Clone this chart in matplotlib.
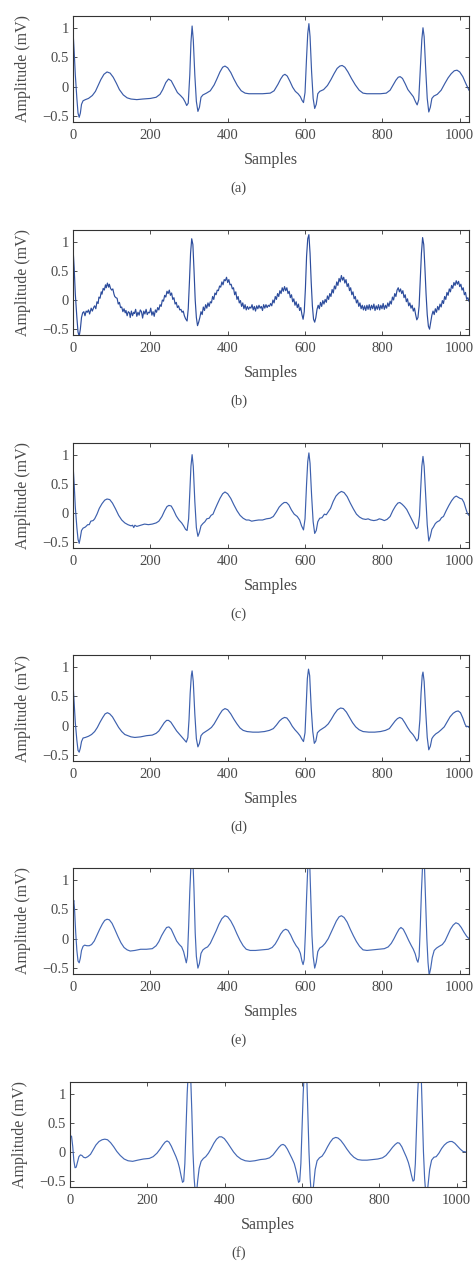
import numpy as np
import matplotlib
matplotlib.use('Agg')
import matplotlib.pyplot as plt

plt.rcParams['font.family'] = ['Liberation Serif', 'DejaVu Serif']
plt.rcParams['axes.unicode_minus'] = True

# ECG traces: [sample, amplitude (mV)]
ecg_a = np.array([
    [0, 0.95], [3, 0.6], [6, 0.2], [10, -0.2], [13, -0.45], [16, -0.52], [19, -0.45], [22, -0.3],
    [26, -0.24], [32, -0.22], [40, -0.2], [50, -0.15], [58, -0.08], [65, 0.02], [72, 0.12], [80, 0.21],
    [88, 0.25], [96, 0.23], [104, 0.16], [112, 0.06], [120, -0.05], [130, -0.14], [140, -0.19], [150, -0.21],
    [165, -0.22], [180, -0.21], [200, -0.2], [215, -0.18], [225, -0.13], [232, -0.05], [240, 0.07], [247, 0.13],
    [254, 0.1], [262, 0.0], [270, -0.1], [278, -0.15], [285, -0.2], [290, -0.26], [294, -0.32], [298, -0.28],
    [302, 0.2], [305, 0.75], [308, 1.03], [311, 0.8], [315, 0.2], [319, -0.25], [323, -0.42], [327, -0.35],
    [331, -0.18], [336, -0.14], [345, -0.11], [355, -0.07], [365, 0.03], [372, 0.13], [380, 0.25], [387, 0.33],
    [393, 0.35], [400, 0.32], [408, 0.24], [416, 0.13], [425, 0.02], [435, -0.07], [445, -0.11], [455, -0.12],
    [470, -0.12], [490, -0.12], [510, -0.11], [520, -0.07], [530, 0.04], [537, 0.13], [543, 0.19], [548, 0.21],
    [554, 0.18], [561, 0.09], [568, -0.01], [575, -0.08], [582, -0.12], [588, -0.17], [592, -0.23], [596, -0.27],
    [600, -0.1], [604, 0.5], [607, 0.9], [610, 1.07], [613, 0.85], [617, 0.25], [621, -0.2], [625, -0.37],
    [629, -0.3], [633, -0.12], [638, -0.08], [648, -0.05], [658, 0.02], [667, 0.12], [675, 0.22], [683, 0.31],
    [690, 0.35], [696, 0.36], [703, 0.33], [711, 0.25], [720, 0.14], [730, 0.03], [740, -0.06], [750, -0.11],
    [760, -0.12], [775, -0.12], [795, -0.12], [810, -0.11], [820, -0.06], [828, 0.03], [835, 0.11], [841, 0.16],
    [846, 0.17], [852, 0.14], [859, 0.05], [866, -0.05], [873, -0.11], [880, -0.17], [886, -0.26], [890, -0.31],
    [894, -0.22], [898, 0.3], [902, 0.8], [905, 1.0], [908, 0.85], [912, 0.3], [916, -0.2], [920, -0.43],
    [924, -0.35], [928, -0.2], [933, -0.16], [942, -0.13], [952, -0.06], [962, 0.06], [970, 0.15], [978, 0.22],
    [986, 0.27], [993, 0.28], [1000, 0.25], [1008, 0.17], [1016, 0.05], [1024, -0.06]])

ecg_b = np.array([
    [0, 0.9], [3, 0.55], [6, 0.1], [10, -0.3], [13, -0.55], [16, -0.62], [19, -0.5], [22, -0.3], [25, -0.22],
    [28, -0.2], [31, -0.27], [34, -0.19], [37, -0.21], [40, -0.17], [43, -0.24], [47, -0.14], [50, -0.19],
    [54, -0.12], [56, -0.1], [59, -0.15], [62, -0.03], [65, -0.06], [67, 0.05], [70, 0.03], [73, 0.14],
    [75, 0.1], [78, 0.2], [81, 0.17], [84, 0.26], [86, 0.21], [89, 0.29], [92, 0.22], [94, 0.27], [97, 0.2],
    [100, 0.17], [103, 0.19], [106, 0.1], [108, 0.06], [111, 0.04], [114, 0.03], [117, -0.07], [120, -0.04],
    [123, -0.13], [126, -0.12], [129, -0.2], [132, -0.15], [135, -0.22], [137, -0.18], [140, -0.27],
    [143, -0.2], [146, -0.22], [148, -0.3], [151, -0.19], [154, -0.27], [157, -0.21], [159, -0.23],
    [162, -0.16], [165, -0.28], [168, -0.21], [171, -0.26], [174, -0.17], [177, -0.2], [180, -0.31],
    [183, -0.19], [186, -0.24], [189, -0.16], [192, -0.25], [195, -0.21], [198, -0.22], [201, -0.14],
    [204, -0.26], [207, -0.2], [210, -0.28], [213, -0.17], [216, -0.21], [219, -0.13], [222, -0.17],
    [225, -0.08], [228, -0.11], [231, 0.0], [234, -0.02], [237, 0.08], [240, 0.05], [243, 0.15], [246, 0.11],
    [249, 0.17], [252, 0.08], [255, 0.12], [258, 0.01], [261, 0.04], [264, -0.07], [267, -0.04], [270, -0.13],
    [273, -0.1], [276, -0.17], [279, -0.16], [282, -0.21], [285, -0.19], [288, -0.27], [291, -0.32],
    [295, -0.36], [298, -0.15], [301, 0.3], [304, 0.8], [307, 1.05], [310, 0.95], [313, 0.5], [316, 0.0],
    [319, -0.3], [322, -0.44], [325, -0.38], [328, -0.3], [331, -0.2], [334, -0.25], [337, -0.12],
    [340, -0.18], [343, -0.08], [346, -0.14], [349, -0.05], [352, -0.11], [355, -0.03], [358, -0.05],
    [361, 0.06], [364, 0.01], [367, 0.12], [370, 0.09], [373, 0.17], [376, 0.16], [379, 0.24], [382, 0.22],
    [385, 0.31], [388, 0.26], [391, 0.35], [394, 0.33], [397, 0.39], [400, 0.3], [403, 0.35], [406, 0.26],
    [409, 0.27], [412, 0.19], [415, 0.21], [418, 0.09], [421, 0.14], [424, 0.01], [427, 0.06], [430, -0.05],
    [433, -0.01], [436, -0.11], [439, -0.05], [442, -0.15], [445, -0.08], [448, -0.17], [451, -0.11],
    [454, -0.16], [457, -0.12], [460, -0.14], [463, -0.08], [466, -0.17], [469, -0.11], [472, -0.19],
    [475, -0.1], [478, -0.15], [481, -0.09], [484, -0.14], [487, -0.11], [490, -0.18], [493, -0.08],
    [496, -0.14], [499, -0.08], [502, -0.13], [505, -0.09], [508, -0.11], [511, -0.06], [514, -0.1],
    [517, 0.0], [520, -0.05], [523, 0.06], [526, 0.01], [529, 0.11], [532, 0.06], [535, 0.16], [538, 0.11],
    [541, 0.21], [544, 0.15], [547, 0.23], [550, 0.16], [553, 0.21], [556, 0.11], [559, 0.15], [562, 0.04],
    [565, 0.09], [568, -0.03], [571, 0.02], [574, -0.09], [577, -0.03], [580, -0.13], [583, -0.07],
    [586, -0.18], [589, -0.13], [592, -0.25], [595, -0.33], [598, -0.2], [601, 0.2], [604, 0.75], [607, 1.05],
    [610, 1.12], [613, 0.8], [616, 0.3], [619, -0.1], [622, -0.33], [625, -0.38], [628, -0.3], [631, -0.16],
    [634, -0.09], [637, -0.15], [640, -0.04], [643, -0.11], [646, -0.01], [649, -0.07], [652, 0.01],
    [655, -0.04], [658, 0.07], [661, 0.01], [664, 0.11], [667, 0.06], [670, 0.18], [673, 0.12], [676, 0.24],
    [679, 0.19], [682, 0.31], [685, 0.25], [688, 0.37], [691, 0.31], [694, 0.42], [697, 0.34], [700, 0.39],
    [703, 0.29], [706, 0.35], [709, 0.23], [712, 0.28], [715, 0.16], [718, 0.21], [721, 0.09], [724, 0.14],
    [727, 0.02], [730, 0.06], [733, -0.05], [736, 0.0], [739, -0.11], [742, -0.05], [745, -0.15], [748, -0.09],
    [751, -0.17], [754, -0.1], [757, -0.18], [760, -0.09], [763, -0.16], [766, -0.08], [769, -0.17],
    [772, -0.09], [775, -0.15], [778, -0.07], [781, -0.18], [784, -0.1], [787, -0.16], [790, -0.08],
    [793, -0.17], [796, -0.09], [799, -0.15], [802, -0.06], [805, -0.16], [808, -0.09], [811, -0.14],
    [814, -0.05], [817, -0.11], [820, -0.02], [823, -0.07], [826, 0.05], [829, 0.0], [832, 0.11], [835, 0.06],
    [838, 0.17], [841, 0.21], [844, 0.14], [847, 0.19], [850, 0.11], [853, 0.16], [856, 0.04], [859, 0.09],
    [862, -0.03], [865, 0.02], [868, -0.1], [871, -0.05], [874, -0.14], [877, -0.09], [880, -0.19],
    [883, -0.14], [886, -0.25], [889, -0.34], [892, -0.3], [895, -0.1], [898, 0.35], [901, 0.8], [904, 1.07],
    [907, 0.95], [910, 0.55], [913, 0.1], [916, -0.25], [919, -0.45], [922, -0.5], [925, -0.38], [928, -0.26],
    [931, -0.19], [934, -0.25], [937, -0.15], [940, -0.21], [943, -0.11], [946, -0.17], [949, -0.07],
    [952, -0.12], [955, -0.01], [958, -0.06], [961, 0.06], [964, 0.01], [967, 0.13], [970, 0.08], [973, 0.19],
    [976, 0.14], [979, 0.25], [982, 0.2], [985, 0.3], [988, 0.25], [991, 0.33], [994, 0.27], [997, 0.32],
    [1000, 0.23], [1003, 0.27], [1006, 0.17], [1009, 0.21], [1012, 0.09], [1015, 0.13], [1018, 0.01],
    [1021, 0.04], [1024, -0.02]])

ecg_c = np.array([
    [0, 0.84], [3, 0.5], [6, 0.1], [10, -0.25], [13, -0.45], [16, -0.52], [19, -0.42], [22, -0.3], [26, -0.26],
    [32, -0.24], [38, -0.2], [42, -0.2], [46, -0.14], [52, -0.13], [56, -0.1], [62, -0.02], [68, 0.08],
    [75, 0.16], [82, 0.22], [88, 0.24], [95, 0.23], [102, 0.17], [110, 0.07], [118, -0.04], [126, -0.12],
    [134, -0.17], [142, -0.2], [150, -0.22], [154, -0.21], [157, -0.25], [160, -0.21], [165, -0.23],
    [175, -0.21], [185, -0.19], [195, -0.2], [205, -0.19], [215, -0.17], [222, -0.14], [230, -0.06],
    [237, 0.04], [243, 0.11], [248, 0.13], [254, 0.12], [260, 0.05], [267, -0.05], [274, -0.12], [281, -0.17],
    [286, -0.22], [291, -0.28], [295, -0.3], [299, -0.1], [302, 0.35], [305, 0.8], [308, 1.0], [311, 0.8],
    [315, 0.2], [319, -0.25], [323, -0.4], [327, -0.33], [331, -0.22], [336, -0.18], [341, -0.15],
    [346, -0.1], [352, -0.09], [357, -0.04], [362, -0.02], [367, 0.06], [373, 0.15], [380, 0.25], [387, 0.33],
    [393, 0.36], [400, 0.33], [408, 0.25], [416, 0.14], [424, 0.04], [432, -0.04], [440, -0.09], [448, -0.12],
    [455, -0.12], [462, -0.14], [470, -0.13], [480, -0.12], [490, -0.12], [500, -0.1], [510, -0.09],
    [518, -0.06], [526, 0.02], [533, 0.1], [540, 0.15], [546, 0.18], [552, 0.18], [558, 0.14], [565, 0.05],
    [572, -0.02], [580, -0.06], [586, -0.12], [591, -0.22], [596, -0.29], [600, -0.1], [604, 0.5], [607, 0.88],
    [610, 1.03], [613, 0.85], [617, 0.3], [621, -0.15], [625, -0.35], [629, -0.3], [633, -0.15], [638, -0.09],
    [644, -0.08], [650, -0.02], [655, -0.03], [660, 0.02], [666, 0.08], [673, 0.2], [680, 0.29], [687, 0.34],
    [694, 0.37], [701, 0.35], [709, 0.28], [717, 0.17], [725, 0.07], [733, -0.02], [741, -0.07], [749, -0.1],
    [757, -0.11], [763, -0.1], [770, -0.12], [778, -0.13], [786, -0.12], [792, -0.1], [798, -0.11],
    [805, -0.13], [812, -0.11], [820, -0.06], [827, 0.04], [834, 0.12], [840, 0.17], [845, 0.18], [851, 0.15],
    [857, 0.11], [863, 0.06], [869, -0.02], [875, -0.1], [880, -0.17], [884, -0.22], [888, -0.27],
    [892, -0.25], [896, -0.05], [899, 0.4], [902, 0.8], [905, 0.97], [908, 0.8], [912, 0.3], [916, -0.2],
    [920, -0.48], [924, -0.4], [928, -0.28], [932, -0.24], [937, -0.18], [942, -0.15], [948, -0.13],
    [953, -0.08], [958, -0.06], [965, 0.04], [972, 0.13], [979, 0.21], [986, 0.27], [991, 0.29], [996, 0.27],
    [1001, 0.25], [1006, 0.24], [1011, 0.18], [1016, 0.07], [1020, -0.01], [1024, -0.04]])

ecg_d = np.array([
    [0, 0.72], [3, 0.4], [6, 0.05], [10, -0.25], [13, -0.42], [16, -0.45], [19, -0.38], [22, -0.27],
    [26, -0.21], [32, -0.2], [40, -0.18], [48, -0.15], [56, -0.1], [63, -0.03], [70, 0.06], [77, 0.14],
    [83, 0.2], [89, 0.22], [95, 0.2], [102, 0.15], [110, 0.06], [118, -0.03], [126, -0.1], [134, -0.15],
    [142, -0.17], [150, -0.19], [160, -0.2], [175, -0.19], [190, -0.17], [205, -0.16], [215, -0.13],
    [222, -0.09], [229, -0.02], [236, 0.05], [242, 0.09], [247, 0.09], [253, 0.06], [260, -0.01], [268, -0.09],
    [276, -0.15], [283, -0.2], [289, -0.25], [293, -0.28], [297, -0.2], [300, 0.1], [303, 0.55], [306, 0.85],
    [308, 0.93], [311, 0.75], [315, 0.2], [319, -0.22], [323, -0.36], [327, -0.3], [331, -0.17], [336, -0.13],
    [343, -0.1], [350, -0.07], [358, -0.03], [365, 0.03], [372, 0.11], [379, 0.19], [386, 0.26], [393, 0.29],
    [400, 0.27], [408, 0.2], [416, 0.11], [424, 0.03], [432, -0.04], [440, -0.08], [450, -0.1], [465, -0.11],
    [480, -0.11], [495, -0.1], [508, -0.08], [518, -0.05], [526, 0.01], [534, 0.08], [541, 0.12], [547, 0.14],
    [553, 0.13], [560, 0.07], [567, -0.01], [574, -0.07], [581, -0.12], [587, -0.17], [592, -0.23],
    [596, -0.27], [600, -0.12], [603, 0.35], [606, 0.8], [609, 0.96], [612, 0.85], [616, 0.3], [620, -0.1],
    [624, -0.3], [628, -0.26], [632, -0.12], [638, -0.08], [645, -0.05], [652, -0.02], [660, 0.03],
    [668, 0.11], [676, 0.2], [684, 0.27], [692, 0.3], [699, 0.29], [707, 0.23], [715, 0.14], [723, 0.05],
    [731, -0.02], [740, -0.07], [750, -0.1], [765, -0.11], [780, -0.11], [795, -0.1], [808, -0.08],
    [818, -0.05], [826, 0.02], [833, 0.08], [839, 0.12], [845, 0.14], [851, 0.12], [858, 0.05], [865, -0.03],
    [872, -0.1], [879, -0.15], [884, -0.2], [889, -0.26], [893, -0.22], [897, 0.1], [900, 0.55], [903, 0.85],
    [905, 0.91], [908, 0.75], [912, 0.25], [916, -0.2], [920, -0.41], [924, -0.35], [928, -0.22],
    [932, -0.18], [938, -0.14], [945, -0.11], [952, -0.07], [960, -0.02], [967, 0.06], [975, 0.15],
    [983, 0.21], [990, 0.24], [996, 0.25], [1002, 0.22], [1008, 0.13], [1014, 0.02], [1018, -0.02],
    [1021, -0.01], [1024, -0.03]])

ecg_e = np.array([
    [0, 0.58], [2, 0.65], [4, 0.5], [7, 0.1], [10, -0.2], [13, -0.38], [16, -0.41], [19, -0.33], [22, -0.2],
    [26, -0.13], [30, -0.11], [36, -0.12], [42, -0.12], [48, -0.1], [55, -0.04], [62, 0.06], [69, 0.16],
    [76, 0.25], [82, 0.31], [88, 0.33], [94, 0.32], [101, 0.26], [108, 0.16], [116, 0.04], [124, -0.07],
    [132, -0.15], [140, -0.19], [148, -0.21], [160, -0.2], [175, -0.18], [190, -0.18], [205, -0.17],
    [215, -0.12], [222, -0.05], [229, 0.05], [236, 0.13], [242, 0.19], [248, 0.2], [254, 0.16], [261, 0.06],
    [268, -0.04], [275, -0.1], [281, -0.14], [286, -0.22], [290, -0.33], [293, -0.41], [296, -0.3], [299, 0.2],
    [302, 0.8], [305, 1.25], [307, 1.4], [310, 1.35], [313, 0.8], [316, 0.1], [319, -0.3], [323, -0.5],
    [327, -0.42], [331, -0.25], [336, -0.19], [342, -0.16], [348, -0.14], [355, -0.08], [362, 0.02],
    [370, 0.13], [377, 0.24], [385, 0.34], [393, 0.39], [400, 0.37], [408, 0.3], [416, 0.2], [424, 0.08],
    [432, -0.03], [440, -0.12], [448, -0.18], [458, -0.2], [472, -0.2], [488, -0.19], [505, -0.18],
    [515, -0.15], [523, -0.09], [530, -0.01], [537, 0.08], [544, 0.14], [550, 0.16], [556, 0.14], [563, 0.06],
    [570, -0.04], [577, -0.12], [583, -0.17], [588, -0.25], [592, -0.38], [595, -0.44], [598, -0.35],
    [601, 0.1], [604, 0.7], [607, 1.2], [609, 1.4], [612, 1.3], [615, 0.7], [618, 0.05], [621, -0.3],
    [625, -0.5], [629, -0.4], [633, -0.22], [638, -0.16], [645, -0.13], [652, -0.08], [660, 0.0], [667, 0.1],
    [674, 0.2], [681, 0.3], [688, 0.37], [694, 0.39], [701, 0.36], [709, 0.28], [717, 0.16], [725, 0.05],
    [733, -0.05], [741, -0.13], [750, -0.19], [760, -0.2], [775, -0.19], [790, -0.18], [805, -0.17],
    [815, -0.14], [823, -0.08], [830, 0.0], [837, 0.09], [843, 0.16], [848, 0.19], [854, 0.16], [861, 0.07],
    [868, -0.03], [875, -0.12], [880, -0.18], [885, -0.26], [889, -0.36], [892, -0.4], [895, -0.3], [898, 0.2],
    [901, 0.8], [904, 1.25], [906, 1.35], [909, 1.2], [912, 0.6], [915, 0.0], [918, -0.4], [921, -0.62],
    [925, -0.5], [929, -0.32], [934, -0.2], [940, -0.16], [947, -0.13], [955, -0.1], [962, -0.04],
    [969, 0.06], [976, 0.16], [983, 0.23], [990, 0.27], [997, 0.25], [1004, 0.19], [1011, 0.11],
    [1018, 0.04], [1024, 0.0]])

ecg_f = np.array([
    [0, 0.28], [4, 0.27], [7, 0.1], [10, -0.15], [13, -0.27], [16, -0.26], [19, -0.18], [23, -0.08],
    [27, -0.05], [31, -0.06], [35, -0.09], [40, -0.1], [46, -0.08], [53, -0.04], [60, 0.04], [67, 0.12],
    [75, 0.18], [83, 0.21], [90, 0.22], [97, 0.21], [105, 0.16], [113, 0.09], [121, 0.01], [130, -0.06],
    [140, -0.12], [150, -0.15], [162, -0.16], [175, -0.14], [190, -0.12], [205, -0.11], [215, -0.08],
    [225, -0.02], [233, 0.05], [240, 0.12], [246, 0.17], [251, 0.19], [256, 0.17], [262, 0.1], [268, 0.01],
    [274, -0.08], [279, -0.17], [283, -0.27], [287, -0.4], [291, -0.52], [294, -0.5], [297, -0.2], [300, 0.4],
    [303, 1.0], [306, 1.4], [309, 1.5], [312, 1.3], [315, 0.7], [318, 0.0], [321, -0.45], [324, -0.7],
    [327, -0.72], [330, -0.5], [334, -0.28], [339, -0.16], [345, -0.11], [351, -0.08], [358, -0.02],
    [365, 0.06], [372, 0.15], [379, 0.22], [386, 0.26], [392, 0.26], [399, 0.23], [407, 0.16], [415, 0.08],
    [423, 0.0], [432, -0.07], [442, -0.12], [453, -0.15], [465, -0.16], [478, -0.15], [492, -0.13],
    [506, -0.12], [516, -0.1], [525, -0.05], [533, 0.02], [540, 0.08], [546, 0.12], [551, 0.13], [556, 0.11],
    [562, 0.05], [568, -0.03], [574, -0.11], [580, -0.2], [584, -0.3], [588, -0.42], [591, -0.52], [594, -0.5],
    [597, -0.2], [600, 0.4], [603, 1.0], [606, 1.4], [609, 1.55], [612, 1.35], [615, 0.7], [618, 0.0],
    [621, -0.45], [624, -0.72], [627, -0.75], [630, -0.55], [634, -0.3], [639, -0.15], [645, -0.1],
    [652, -0.07], [659, 0.0], [666, 0.09], [673, 0.17], [680, 0.23], [687, 0.25], [693, 0.24], [700, 0.2],
    [708, 0.13], [716, 0.05], [725, -0.03], [734, -0.09], [744, -0.13], [755, -0.14], [768, -0.14],
    [782, -0.13], [796, -0.12], [808, -0.1], [817, -0.06], [826, 0.01], [834, 0.08], [841, 0.13], [847, 0.16],
    [852, 0.15], [858, 0.09], [864, 0.0], [870, -0.09], [875, -0.18], [879, -0.28], [883, -0.4], [887, -0.5],
    [890, -0.48], [893, -0.2], [896, 0.4], [899, 1.0], [902, 1.4], [905, 1.55], [908, 1.35], [911, 0.7],
    [914, 0.0], [917, -0.45], [920, -0.72], [923, -0.75], [926, -0.55], [930, -0.3], [935, -0.14],
    [941, -0.09], [947, -0.08], [954, -0.02], [961, 0.06], [968, 0.12], [975, 0.16], [982, 0.18], [988, 0.18],
    [995, 0.15], [1002, 0.1], [1009, 0.05], [1016, 0.01], [1024, 0.0]])

traces = [ecg_a, ecg_b, ecg_c, ecg_d, ecg_e, ecg_f]
captions = ['(a)', '(b)', '(c)', '(d)', '(e)', '(f)']
line_colors = ['#3a5ba8', '#2c4c9c', '#3d60ad', '#3d60ad', '#4468b5', '#4468b5']
xticks = [0, 200, 400, 600, 800, 1000]
yticks = [-0.5, 0, 0.5, 1]
ytick_labels = ['\u22120.5', '0', '0.5', '1']

W, H = 477, 1262
fig = plt.figure(figsize=(W / 100, H / 100), dpi=100)

# axes boxes in pixels: left, top, right, bottom
boxes = [(73, 16, 469, 122), (73, 230, 469, 335), (73, 443, 469, 548),
         (73, 655, 469, 761), (73, 868, 469, 974), (70, 1082, 466, 1187)]

text_col = '#4a4a4a'
for trace, cap, col, (l, t, r, b) in zip(traces, captions, line_colors, boxes):
    ax = fig.add_axes([l / W, 1 - b / H, (r - l) / W, (b - t) / H])
    ax.plot(trace[:, 0], trace[:, 1], color=col, lw=0.85)
    ax.set_xlim(0, 1024)
    ax.set_ylim(-0.6, 1.2)
    ax.set_xticks(xticks)
    ax.set_yticks(yticks)
    ax.set_yticklabels(ytick_labels)
    ax.tick_params(direction='in', length=3, width=0.6, top=True, right=True,
                   labelsize=10.5, labelcolor=text_col, color='#333333')
    ax.tick_params(axis='x', pad=5)
    ax.tick_params(axis='y', pad=3)
    for sp in ax.spines.values():
        sp.set_linewidth(0.8)
        sp.set_color('#333333')
    ax.set_xlabel('Samples', fontsize=11.5, color=text_col, labelpad=7)
    ax.set_ylabel('Amplitude (mV)', fontsize=11.5, color=text_col, labelpad=8)
    fig.text(0.5, 1 - (b + 66) / H, cap, ha='center', va='center', fontsize=10.5, color=text_col)

plt.savefig('out.png', dpi=100)
